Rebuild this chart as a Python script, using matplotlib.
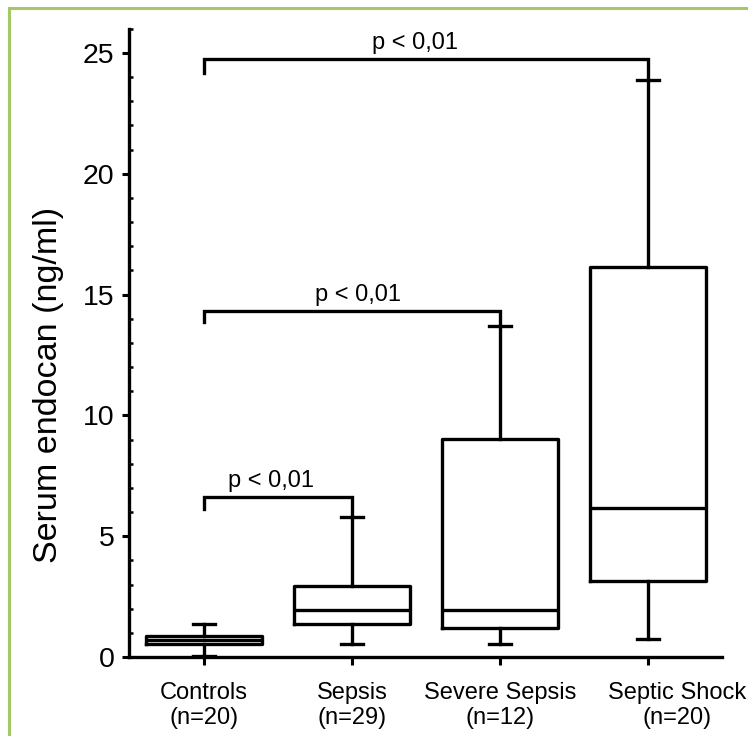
import numpy as np
import matplotlib
matplotlib.use('Agg')
import matplotlib.pyplot as plt
import matplotlib.transforms as mtransforms
from matplotlib.patches import Rectangle
from matplotlib.ticker import MultipleLocator

plt.rcParams['font.family'] = ['Liberation Sans', 'DejaVu Sans']

groups = ['Controls', 'Sepsis', 'Severe Sepsis', 'Septic Shock']
n_labels = ['(n=20)', '(n=29)', '(n=12)', '(n=20)']
whislo = [0.05, 0.55, 0.55, 0.75]
q1 = [0.55, 1.37, 1.2, 3.15]
med = [0.72, 1.95, 1.95, 6.17]
q3 = [0.85, 2.95, 9.02, 16.15]
whishi = [1.37, 5.8, 13.7, 23.9]

# significance brackets (group indices are 1-based)
pairs = [(1, 2), (1, 3), (1, 4)]
bar_y = [6.62, 14.3, 24.75]
left_end = [6.13, 13.85, 24.17]
p_text = ['p < 0,01', 'p < 0,01', 'p < 0,01']

fig = plt.figure(figsize=(7.48, 7.36), dpi=100)
ax = fig.add_axes([129/748, 79/736, 593/748, 628.2/736])

lw = 2.4
stats = []
for i in range(len(groups)):
    stats.append(dict(whislo=whislo[i], q1=q1[i], med=med[i], q3=q3[i],
                      whishi=whishi[i], fliers=[]))
pos = np.arange(1, len(groups) + 1)
ax.bxp(stats, positions=pos, widths=0.78, capwidths=0.15, showfliers=False,
       boxprops=dict(color='black', linewidth=lw),
       whiskerprops=dict(color='black', linewidth=lw),
       capprops=dict(color='black', linewidth=lw),
       medianprops=dict(color='black', linewidth=lw))

# text shift along x (pixels) relative to bracket middle
text_dx = [-7, 6, -11]
for k, (a, b) in enumerate(pairs):
    ax.plot([a, a, b, b], [left_end[k], bar_y[k], bar_y[k], whishi[b - 1]],
            color='black', linewidth=lw, solid_joinstyle='miter', clip_on=False)
    ax.annotate(p_text[k], xy=((a + b) / 2, bar_y[k]),
                xytext=(text_dx[k] * 0.72, 7.5),
                textcoords='offset points', ha='center', va='baseline',
                fontsize=17, annotation_clip=False)

ax.set_xlim(0.493, 4.5)
ax.set_ylim(0, 26)
ax.spines['top'].set_visible(False)
ax.spines['right'].set_visible(False)
ax.spines['left'].set_linewidth(2.4)
ax.spines['bottom'].set_linewidth(2.4)

xpad = 12
ax.yaxis.set_major_locator(MultipleLocator(5))
ax.yaxis.set_minor_locator(MultipleLocator(1))
ax.tick_params(axis='y', which='major', direction='out', length=5, width=2.2,
               labelsize=20.5, pad=5.5)
ax.tick_params(axis='y', which='minor', direction='in', length=3, width=1.8)
ax.tick_params(axis='x', which='major', direction='out', length=6, width=2.2,
               labelsize=17, pad=xpad)

ax.set_xticks(pos)
ax.set_xticklabels([g + '\n' + n for g, n in zip(groups[:-1], n_labels[:-1])] + [''],
                   linespacing=1.2)

# last category label sits shifted to the right in the original
base = mtransforms.blended_transform_factory(ax.transData, ax.transAxes)
ax.text(pos[-1], 0, groups[-1] + '\n' + n_labels[-1], fontsize=17,
        ha='center', va='top', linespacing=1.2,
        transform=base + mtransforms.ScaledTranslation(29/100, -(6 + xpad)/72,
                                                       fig.dpi_scale_trans))

ax.set_ylabel('Serum endocan (ng/ml)', fontsize=24.5)
ax.yaxis.set_label_coords(-0.11, 0.433)

fig.patches.append(Rectangle((8.5/748, -0.05), 1.0, 1.05 - 8.5/736,
                             transform=fig.transFigure, fill=False,
                             edgecolor='#a2c966', linewidth=2.2, clip_on=False))

fig.savefig('out.png', dpi=100)
